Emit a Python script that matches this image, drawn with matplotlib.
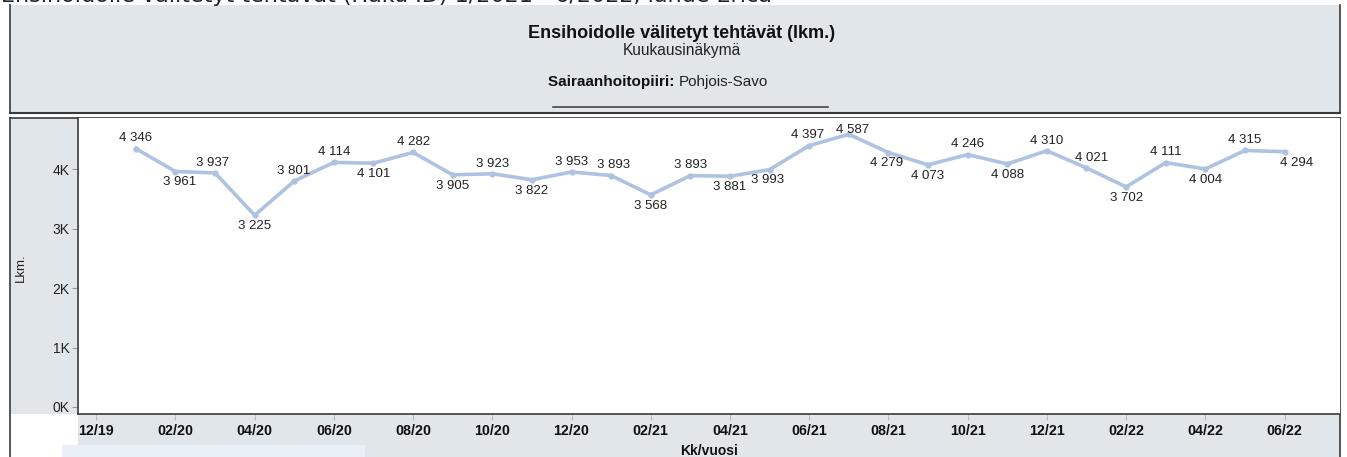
import matplotlib
matplotlib.use("Agg")
import matplotlib.pyplot as plt
from matplotlib.patches import Rectangle
from matplotlib.lines import Line2D

# ---- data ----
months = ["01/20", "02/20", "03/20", "04/20", "05/20", "06/20", "07/20", "08/20", "09/20", "10/20",
          "11/20", "12/20", "01/21", "02/21", "03/21", "04/21", "05/21", "06/21", "07/21", "08/21",
          "09/21", "10/21", "11/21", "12/21", "01/22", "02/22", "03/22", "04/22", "05/22", "06/22"]
values = [4346, 3961, 3937, 3225, 3801, 4114, 4101, 4282, 3905, 3923,
          3822, 3953, 3893, 3568, 3893, 3881, 3993, 4397, 4587, 4279,
          4073, 4246, 4088, 4310, 4021, 3702, 4111, 4004, 4315, 4294]
xtick_labels = ["12/19", "02/20", "04/20", "06/20", "08/20", "10/20", "12/20", "02/21",
                "04/21", "06/21", "08/21", "10/21", "12/21", "02/22", "04/22", "06/22"]
ytick_values = [0, 1000, 2000, 3000, 4000]
ytick_labels = ["0K", "1K", "2K", "3K", "4K"]

# label placement (style): 'a' above, 'b' below
placement = ["a", "b", "a", "b", "a", "a", "b", "a", "b", "a",
             "b", "a", "a", "b", "a", "b", "b", "a", "a", "b",
             "b", "a", "b", "a", "a", "b", "a", "b", "a", "b"]
xshift = [0, 4, -2, 0, -1, 0, 0, 0, 0, 0,
          0, 0, 2, 0, 0, 0, -2, -2, 4, -2,
          0, 0, 0, 0, 5, 0, 0, 0, 0, 12]

W, H = 1347, 457
fig = plt.figure(figsize=(W / 100, H / 100), dpi=100)
fig.patch.set_facecolor("white")

FONT = ["Liberation Sans", "DejaVu Sans"]
GRAY = "#e0e6e9"
DARK = "#3a3a3a"


def fx(px):
    return px / W


def fy(py):
    return 1 - py / H


def rect(x0, y0, x1, y1, **kw):
    fig.patches.append(Rectangle((fx(x0), fy(y1)), fx(x1) - fx(x0), fy(y0) - fy(y1),
                                 transform=fig.transFigure, zorder=-10, **kw))


def line(x0, y0, x1, y1, **kw):
    fig.lines.append(Line2D([fx(x0), fx(x1)], [fy(y0), fy(y1)], transform=fig.transFigure,
                            zorder=-5, **kw))


# clipped top caption
fig.text(fx(1), fy(2), "Ensihoidolle välitetyt tehtävät (Haku ID) 1/2021 - 6/2022, lähde Erica",
         fontsize=16, family="DejaVu Sans", color="#222222", va="baseline", ha="left")

# header box
rect(10, 5, 1340, 113, facecolor=GRAY, edgecolor="none")
line(10, 5, 10, 113, color=DARK, lw=1.2)
line(1340, 5, 1340, 113, color=DARK, lw=1.2)
line(10, 113, 1340, 113, color=DARK, lw=1.5)

fig.text(fx(682), fy(33), "Ensihoidolle välitetyt tehtävät (lkm.)", fontsize=13,
         fontweight="bold", family=FONT, ha="center", va="center", color="#111111")
fig.text(fx(682), fy(50), "Kuukausinäkymä", fontsize=11.2, family=FONT, ha="center",
         va="center", color="#222222")
fig.text(fx(679), fy(82), "Sairaanhoitopiiri: ", fontsize=11, fontweight="bold",
         family=FONT, ha="right", va="center", color="#111111")
fig.text(fx(679), fy(82), "Pohjois-Savo", fontsize=11, family=FONT, ha="left",
         va="center", color="#222222")
line(553, 107, 828, 107, color="#444444", lw=1.2)

# chart frame
rect(10, 118, 78, 414, facecolor=GRAY, edgecolor="none")
rect(78, 414, 1340, 457, facecolor=GRAY, edgecolor="none")
rect(62, 445, 365, 457, facecolor="#e9f0f7", edgecolor="none")
line(10, 118, 1340, 118, color=DARK, lw=1.2)
line(10, 118, 10, 457, color=DARK, lw=1.2)
line(1340, 118, 1340, 457, color=DARK, lw=1.2)

ax = fig.add_axes([fx(78), fy(414), fx(1340) - fx(78), fy(118) - fy(414)])
ax.set_facecolor("white")

x = list(range(len(values)))
ax.plot(x, values, color="#aec2e2", lw=2.6, marker="o", markersize=3.5,
        markerfacecolor="#aec2e2", markeredgecolor="#aec2e2", solid_joinstyle="round", zorder=3)

for i, v in enumerate(values):
    dy = 3 if placement[i] == "a" else -3.5
    va = "bottom" if placement[i] == "a" else "top"
    if i == 18:
        dy = -1
    lab = f"{v:,}".replace(",", " ")
    ax.annotate(lab, (i, v), xytext=(xshift[i] * 0.72, dy), textcoords="offset points",
                ha="center", va=va, fontsize=9.5, family=FONT, color="#222222", zorder=4,
                annotation_clip=False)

ax.set_xlim(-1.46, 30.4)
ax.set_ylim(-118, 4861)

tick_pos = [-1 + 2 * k for k in range(len(xtick_labels))]
ax.set_xticks(tick_pos)
ax.set_xticklabels(xtick_labels, fontweight="bold", family=FONT, fontsize=10.3, color="#111111")
ax.set_yticks(ytick_values)
ax.set_yticklabels(ytick_labels, family=FONT, fontsize=10, color="#222222")
ax.tick_params(axis="y", length=4, color="#999999", pad=2)
ax.tick_params(axis="x", length=4, color="#bbbbbb", pad=3)

for s in ["top", "right"]:
    ax.spines[s].set_visible(False)
ax.spines["left"].set_color(DARK)
ax.spines["bottom"].set_color(DARK)
ax.spines["left"].set_linewidth(1.2)
ax.spines["bottom"].set_linewidth(1.2)

fig.text(fx(709), fy(451), "Kk/vuosi", fontsize=10, fontweight="bold", family=FONT,
         ha="center", va="center", color="#111111")
fig.text(fx(21), fy(268), "Lkm.", fontsize=9.5, family=FONT, rotation=90,
         ha="center", va="center", color="#222222")

fig.savefig("out.png", dpi=100)
